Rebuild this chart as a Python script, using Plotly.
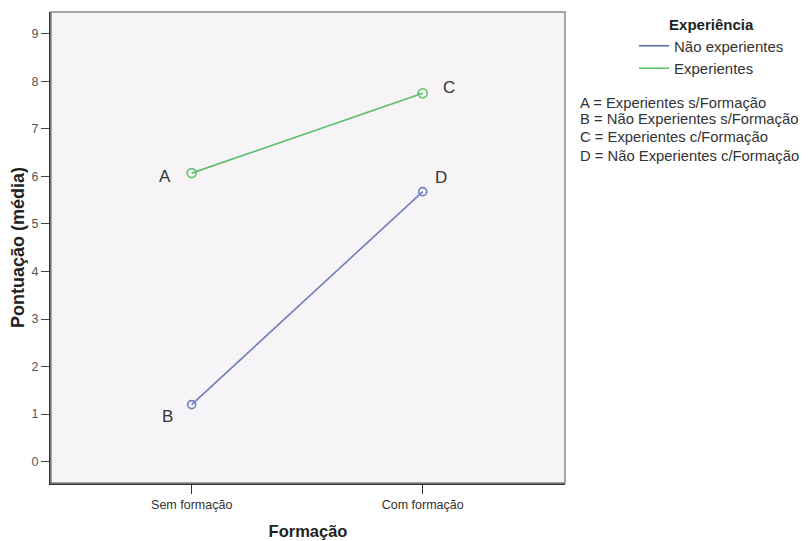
import plotly.graph_objects as go

categories = ["Sem formação", "Com formação"]
nao_experientes = [1.2, 5.68]
experientes = [6.07, 7.75]
series_names = ["Não experientes", "Experientes"]
point_labels_exp = ["A", "C"]
point_labels_nao = ["B", "D"]
y_ticks = [0, 1, 2, 3, 4, 5, 6, 7, 8, 9]
notes = [
    "A = Experientes s/Formação",
    "B = Não Experientes s/Formação",
    "C = Experientes c/Formação",
    "D = Não Experientes c/Formação",
]

BLUE = "#6E7DBD"
GREEN = "#5EC06C"
FONT = "Liberation Sans, Arial, sans-serif"
xpos = [0, 1]

# page is rendered with an 8px body margin; plot area target: x 51-565, y 11-483
W, H = 803, 533
L, T, R, B = 43, 3, 246, 58
PW, PH = W - L - R, H - T - B
OX, OY = 51, 11  # page position of plot area's top-left


def px_x(px):
    return (px - OX) / PW


def px_y(py):
    return 1 - (py - OY) / PH


fig = go.Figure()
fig.add_trace(go.Scatter(x=xpos, y=nao_experientes, mode="lines+markers",
                         line=dict(color=BLUE, width=1.6),
                         marker=dict(symbol="circle-open", size=8, color=BLUE, line=dict(width=1.6)),
                         showlegend=False))
fig.add_trace(go.Scatter(x=xpos, y=experientes, mode="lines+markers",
                         line=dict(color=GREEN, width=1.8),
                         marker=dict(symbol="circle-open", size=9, color=GREEN, line=dict(width=1.6)),
                         showlegend=False))
fig.add_trace(go.Scatter(x=[None], y=[None], mode="lines", name=series_names[0],
                         line=dict(color="#5F6F9F", width=1.6)))
fig.add_trace(go.Scatter(x=[None], y=[None], mode="lines", name=series_names[1],
                         line=dict(color=GREEN, width=1.6)))

annotations = []
offsets_exp = [(-27, -3), (26, 6)]
offsets_nao = [(-24, -12), (18, 14)]
for i in range(2):
    annotations.append(dict(x=xpos[i], y=experientes[i], text=point_labels_exp[i], showarrow=False,
                            xshift=offsets_exp[i][0], yshift=offsets_exp[i][1],
                            font=dict(family=FONT, size=17, color="#333333")))
    annotations.append(dict(x=xpos[i], y=nao_experientes[i], text=point_labels_nao[i], showarrow=False,
                            xshift=offsets_nao[i][0], yshift=offsets_nao[i][1],
                            font=dict(family=FONT, size=17, color="#333333")))

note_y = [101.7, 118.5, 136.5, 155]
for t, yy in zip(notes, note_y):
    annotations.append(dict(xref="paper", yref="paper", x=px_x(578), y=px_y(yy),
                            xanchor="left", yanchor="middle", text=t, showarrow=False,
                            font=dict(family=FONT, size=14.8, color="#333333")))

fig.update_layout(
    width=W, height=H,
    margin=dict(l=L, r=R, t=T, b=B),
    paper_bgcolor="white",
    plot_bgcolor="#F7F4F7",
    font=dict(family=FONT, color="#333333"),
    annotations=annotations,
    legend=dict(
        title=dict(text="<b>Experiência</b>", side="top center",
                   font=dict(family=FONT, size=15, color="#222222")),
        x=px_x(634), xanchor="left", y=px_y(10), yanchor="top",
        font=dict(family=FONT, size=15, color="#333333"),
        bgcolor="rgba(0,0,0,0)", itemwidth=30,
        tracegroupgap=0,
    ),
    shapes=[dict(type="rect", xref="paper", yref="paper", x0=0, y0=0, x1=1, y1=1,
                 line=dict(color="#8A8A8A", width=1.5), layer="above")],
)

fig.update_xaxes(
    range=[-0.609, 1.616], tickmode="array", tickvals=xpos, ticktext=categories,
    showgrid=False, zeroline=False, showline=True, linecolor="#333333", linewidth=2,
    ticks="outside", ticklen=9, tickcolor="#333333",
    tickfont=dict(family=FONT, size=12.5, color="#333333"),
    title=dict(text="<b>Formação</b>", font=dict(family=FONT, size=16.5, color="#222222"), standoff=14),
)
fig.update_yaxes(
    range=[-0.45, 9.46], tickmode="array", tickvals=y_ticks,
    showgrid=False, zeroline=False, showline=True, linecolor="#333333", linewidth=2,
    ticks="outside", ticklen=8, tickcolor="#444444",
    tickfont=dict(family=FONT, size=12.5, color="#555555"),
    title=dict(text="<b>Pontuação (média)</b>", font=dict(family=FONT, size=18, color="#222222"), standoff=2),
)

fig.write_html("out.html")
